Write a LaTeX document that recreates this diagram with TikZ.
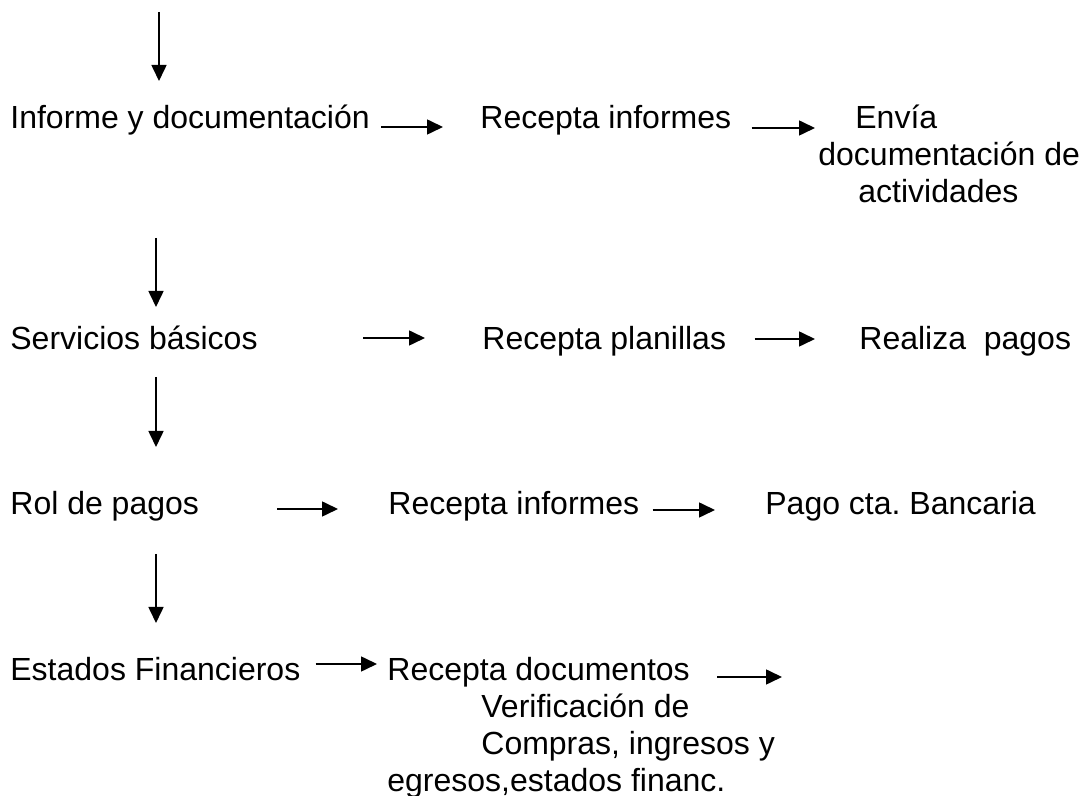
\documentclass[tikz,border=0pt]{standalone}
\usepackage{fontspec}
\setmainfont{Liberation Sans}
\frenchspacing
\usetikzlibrary{arrows.meta}

\begin{document}
\begin{tikzpicture}[
    x=0.5pt, y=-0.5pt,
    txt/.style={font=\fontsize{16}{18.5}\selectfont, inner sep=0pt, anchor=base west, align=left},
    flecha/.style={-{Triangle[length=8pt, width=7.5pt]}, line width=0.8pt, draw=black}
]
    \useasboundingbox (0,0) rectangle (1089,796);

    % Fila 1
    \node (inf) [txt] at (10,129) {Informe y documentación};
    \node (rec1) [txt] at (480,129) {Recepta informes};
    \node (env) [txt] at (818,203) {\hspace*{18.5pt}Envía\\documentación de\\\hspace*{20pt}actividades};

    % Fila 2
    \node (serv) [txt] at (10,350) {Servicios básicos};
    \node (rec2) [txt] at (482,350) {Recepta planillas};
    \node (real) [txt] at (859,350) {Realiza\ \ pagos};

    % Fila 3
    \node (rol) [txt] at (10,515) {Rol de pagos};
    \node (rec3) [txt] at (388,515) {Recepta informes};
    \node (pago) [txt] at (765,515) {Pago cta. Bancaria};

    % Fila 4
    \node (est) [txt] at (10,681) {Estados Financieros};
    \node (rec4) [txt] at (387,792) {Recepta documentos\\\hspace*{47pt}Verificación de\\\hspace*{47pt}Compras, ingresos y\\egresos,estados financ.};

    \coordinate (ini) at (159,12);
    \coordinate (fin) at (782,677);

    % Flechas verticales
    \draw [flecha] (ini) -- ([shift={(149,-48)}]inf.base west);
    \draw [flecha] ([shift={(146,109)}]inf.base west) -- ([shift={(146,-43)}]serv.base west);
    \draw [flecha] ([shift={(146,27)}]serv.base west) -- ([shift={(146,-68)}]rol.base west);
    \draw [flecha] ([shift={(146,39)}]rol.base west) -- ([shift={(146,-58)}]est.base west);

    % Flechas horizontales
    \draw [flecha] ([shift={(11,-2)}]inf.base east) -- ([shift={(-37,-2)}]rec1.base west);
    \draw [flecha] ([shift={(20,-1)}]rec1.base east) -- ([shift={(-3,-75)}]env.base west);
    \draw [flecha] ([shift={(105,-12)}]serv.base east) -- ([shift={(-57,-12)}]rec2.base west);
    \draw [flecha] ([shift={(28,-11)}]rec2.base east) -- ([shift={(-44,-11)}]real.base west);
    \draw [flecha] ([shift={(78,-6)}]rol.base east) -- ([shift={(-50,-6)}]rec3.base west);
    \draw [flecha] ([shift={(13,-5)}]rec3.base east) -- ([shift={(-50,-5)}]pago.base west);
    \draw [flecha] ([shift={(15,-17)}]est.base east) -- ([shift={(-10,-128)}]rec4.base west);
    \draw [flecha] ([shift={(330,-115)}]rec4.base west) -- (fin);
\end{tikzpicture}
\end{document}
